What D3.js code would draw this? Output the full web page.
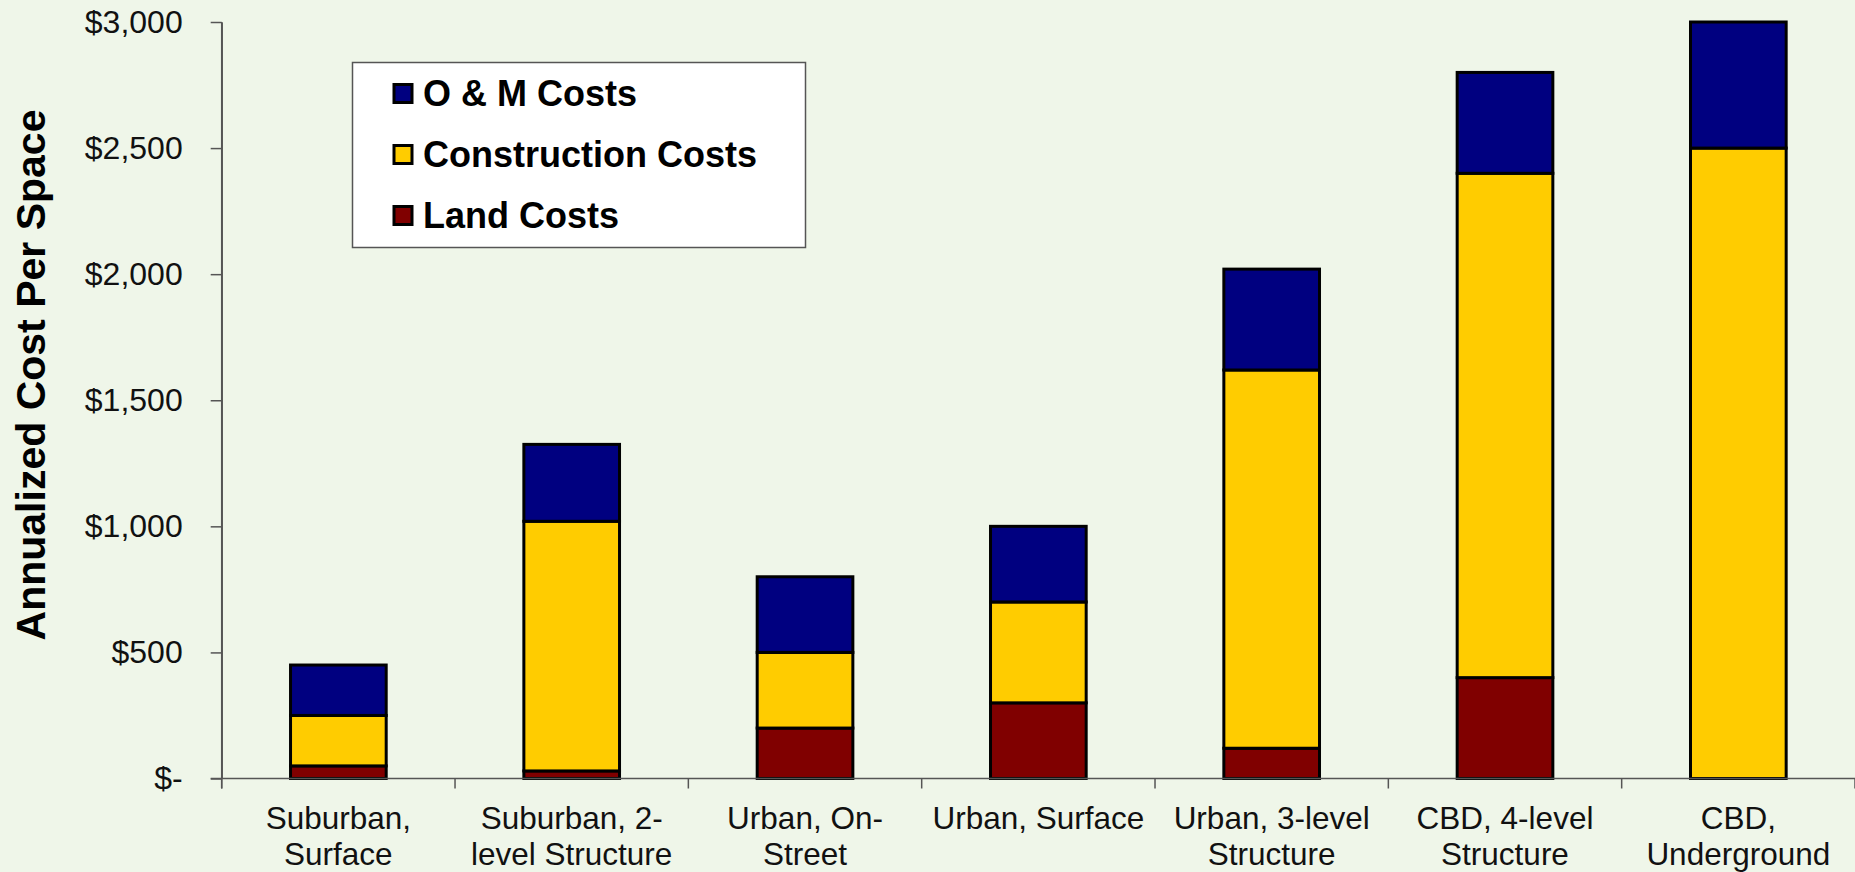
<!DOCTYPE html>
<meta charset="utf-8">
<style type="text/css">

body {
  margin: 0;
  background-color: #eff6e9;
}

svg {
  display: block;
  font-family: "Liberation Sans", Arial, sans-serif;
}

.axis path,
.axis line {
  stroke: #555;
  stroke-width: 1.5;
}

.axis text {
  fill: #111;
  font-size: 32px;
}

.seg {
  stroke: #000;
  stroke-width: 3;
}

.xlabel {
  fill: #111;
  font-size: 31.5px;
  text-anchor: middle;
}

.legend text {
  font-size: 36px;
  font-weight: bold;
  fill: #000;
}

</style>
<svg width="1855" height="872"></svg>
<script src="https://cdn.jsdelivr.net/npm/d3@7"></script>
<script>

// categories, one array of label lines each
var categories = [
  ["Suburban,", "Surface"],
  ["Suburban, 2-", "level Structure"],
  ["Urban, On-", "Street"],
  ["Urban, Surface"],
  ["Urban, 3-level", "Structure"],
  ["CBD, 4-level", "Structure"],
  ["CBD,", "Underground"]
];

var landCosts         = [50, 30, 200, 300, 120, 400, 0];
var constructionCosts = [200, 990, 300, 400, 1500, 2000, 2500];
var omCosts           = [200, 305, 300, 300, 400, 400, 500];

var seriesNames  = ["Land Costs", "Construction Costs", "O & M Costs"];
var seriesColors = ["#800000", "#ffcc00", "#000080"];
var yTicks = [0, 500, 1000, 1500, 2000, 2500, 3000];

var svg = d3.select("svg"),
    width = +svg.attr("width"),
    height = +svg.attr("height");

// plot box (window.top is reserved, so no plain "top")
var plotLeft = 221.7, plotRight = 1855, plotTop = 22, plotBottom = 778.5;

var rows = categories.map(function(c, i){
  return { key: i, land: landCosts[i], construction: constructionCosts[i], om: omCosts[i] };
});

var stack = d3.stack().keys(["land", "construction", "om"]);
var series = stack(rows);

var x = d3.scaleBand()
          .domain(d3.range(categories.length))
          .range([plotLeft, plotRight])
          .paddingInner(0.59)
          .paddingOuter(0.295);

var y = d3.scaleLinear().domain([0, 3000]).range([plotBottom, plotTop]);

//BARS
var g = svg.append("g");

g.selectAll(".series")
  .data(series)
  .enter().append("g")
    .attr("class", "series")
    .attr("fill", function(d, i){ return seriesColors[i]; })
  .selectAll("rect")
  .data(function(d){ return d; })
  .enter().append("rect")
    .attr("class", "seg")
    .attr("x", function(d, i){ return x(i); })
    .attr("width", x.bandwidth())
    .attr("y", function(d){ return y(d[1]); })
    .attr("height", function(d){ return y(d[0]) - y(d[1]); });

//Y AXIS
var yAxis = d3.axisLeft(y)
  .tickValues(yTicks)
  .tickSize(11)
  .tickSizeOuter(0)
  .tickPadding(28)
  .tickFormat(function(d){ return d === 0 ? "$-" : "$" + d3.format(",")(d); });

svg.append("g")
   .attr("class", "axis")
   .attr("transform", "translate(" + plotLeft + ",0)")
   .call(yAxis);

// y axis line runs a little below zero, like the category ticks
svg.append("line")
   .attr("x1", plotLeft).attr("x2", plotLeft)
   .attr("y1", plotTop).attr("y2", plotBottom + 10)
   .attr("stroke", "#555").attr("stroke-width", 1.5);

//X AXIS line + boundary ticks
svg.append("line")
   .attr("x1", plotLeft - 11).attr("x2", plotRight)
   .attr("y1", plotBottom).attr("y2", plotBottom)
   .attr("stroke", "#555").attr("stroke-width", 1.5);

var bounds = d3.range(categories.length + 1).map(function(k){
  return plotLeft + k * x.step();
});

svg.selectAll(".xtick")
   .data(bounds)
   .enter().append("line")
     .attr("class", "xtick")
     .attr("x1", function(d){ return d; })
     .attr("x2", function(d){ return d; })
     .attr("y1", plotBottom)
     .attr("y2", plotBottom + 10)
     .attr("stroke", "#555").attr("stroke-width", 1.5);

var labels = svg.selectAll(".xlabel")
   .data(categories)
   .enter().append("text")
     .attr("class", "xlabel")
     .attr("x", function(d, i){ return x(i) + x.bandwidth() / 2; })
     .attr("y", 828.5);

labels.selectAll("tspan")
  .data(function(d){ return d; })
  .enter().append("tspan")
    .attr("x", function(){ return d3.select(this.parentNode).attr("x"); })
    .attr("dy", function(d, i){ return i === 0 ? 0 : 36.7; })
    .text(function(d){ return d; });

//Y TITLE
svg.append("text")
   .attr("transform", "translate(45,375) rotate(-90)")
   .attr("text-anchor", "middle")
   .style("font-size", "41px")
   .style("font-weight", "bold")
   .attr("fill", "#000")
   .text("Annualized Cost Per Space");

//LEGEND
var legend = svg.append("g").attr("class", "legend");

legend.append("rect")
   .attr("x", 352.5).attr("y", 62.5)
   .attr("width", 453).attr("height", 185)
   .attr("fill", "#fff")
   .attr("stroke", "#555")
   .attr("stroke-width", 1.5);

var legendOrder = [2, 1, 0];

var item = legend.selectAll(".item")
   .data(legendOrder)
   .enter().append("g")
     .attr("class", "item")
     .attr("transform", function(d, i){ return "translate(0," + (105.5 + i * 61) + ")"; });

item.append("rect")
    .attr("x", 394).attr("y", -21)
    .attr("width", 18).attr("height", 18)
    .attr("fill", function(d){ return seriesColors[d]; })
    .attr("stroke", "#000")
    .attr("stroke-width", 3);

item.append("text")
    .attr("x", 423)
    .attr("y", 0)
    .text(function(d){ return seriesNames[d]; });

</script>
